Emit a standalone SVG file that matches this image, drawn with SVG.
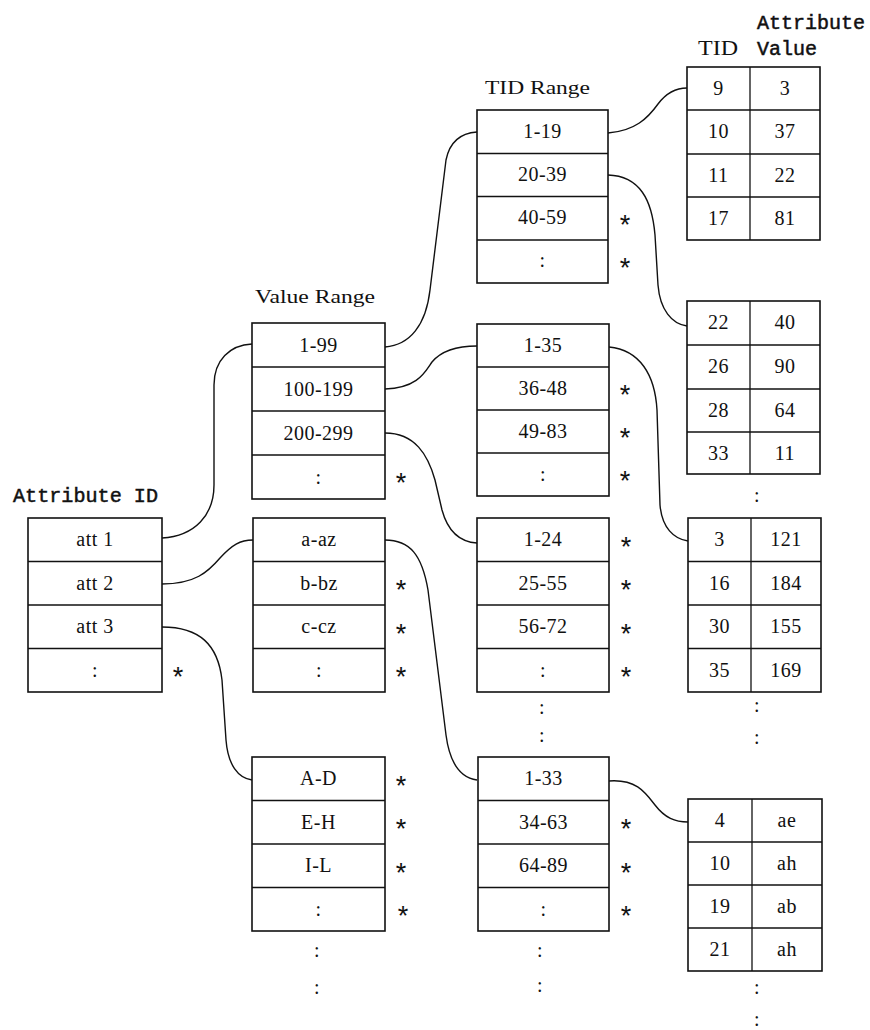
<svg xmlns="http://www.w3.org/2000/svg" width="870" height="1030" viewBox="0 0 870 1030">
<style>
.frame{fill:#fff;stroke:#111;stroke-width:1.6}
.div{stroke:#111;stroke-width:1.3}
.c{font-family:"Liberation Serif",serif;font-size:20px;fill:#111;text-anchor:middle;letter-spacing:0.5px}
.ast{font-family:"Liberation Sans",sans-serif;font-size:27px;fill:#111;text-anchor:middle}
.mono{font-family:"Liberation Mono",monospace;font-size:20px;fill:#111;stroke:#111;stroke-width:0.5}
.ser{font-family:"Liberation Serif",serif;font-size:19px;fill:#111}
.conn path{fill:none;stroke:#111;stroke-width:1.4}
</style>
<rect width="870" height="1030" fill="#fff"/>

<!-- headers -->
<text class="mono" x="13" y="502" textLength="145" lengthAdjust="spacingAndGlyphs" style="font-size:21px">Attribute ID</text>
<text class="ser" x="255" y="303" textLength="120" lengthAdjust="spacingAndGlyphs">Value Range</text>
<text class="ser" x="485" y="94" textLength="105" lengthAdjust="spacingAndGlyphs">TID Range</text>
<text class="ser" x="698" y="55" textLength="40" lengthAdjust="spacingAndGlyphs" style="font-size:20px">TID</text>
<text class="mono" x="757" y="29" textLength="108" lengthAdjust="spacingAndGlyphs">Attribute</text>
<text class="mono" x="757" y="55" textLength="60" lengthAdjust="spacingAndGlyphs">Value</text>

<!-- connectors -->
<g id="connectors" class="conn">
<path d="M162,538 C195,536 214,515 214,485 L214,385 C214,360 230,345 252,344"/>
<path d="M162,584 C195,584 208,572 220,558 C232,545 240,540 253,540"/>
<path d="M162,627 C200,627 218,645 222,680 L226,740 C228,765 238,778 252,780"/>
<path d="M385,347 C410,345 426,325 430,290 L446,160 C450,140 462,133 477,132"/>
<path d="M385,389 C418,388 425,372 432,362 C442,350 458,346 477,346"/>
<path d="M385,433 C415,433 428,455 435,480 L442,510 C448,532 460,542 477,543"/>
<path d="M385,540 C410,540 422,555 428,590 L446,735 C450,765 462,778 477,780"/>
<path d="M608,133 C635,131 648,118 658,104 C667,92 677,88 687,88"/>
<path d="M608,175 C640,176 652,200 655,235 L658,285 C660,310 672,324 687,326"/>
<path d="M609,347 C640,350 655,375 657,410 L660,505 C662,528 674,539 688,541"/>
<path d="M609,781 C636,779 645,792 655,805 C665,818 675,822 688,822"/>
</g>

<!-- Attribute ID table -->
<g id="attr-id">
<rect class="frame" x="28" y="518" width="134" height="174"/>
<line class="div" x1="28" y1="561.5" x2="162" y2="561.5"/>
<line class="div" x1="28" y1="605" x2="162" y2="605"/>
<line class="div" x1="28" y1="648.5" x2="162" y2="648.5"/>
<text class="c" x="95" y="546">att 1</text>
<text class="c" x="95" y="590">att 2</text>
<text class="c" x="95" y="633">att 3</text>
<text class="c" x="95" y="677">:</text>
<text class="ast" x="178" y="686">*</text>
</g>

<!-- Value Range table 1 -->
<g id="vr1">
<rect class="frame" x="252" y="323" width="133" height="176"/>
<line class="div" x1="252" y1="367" x2="385" y2="367"/>
<line class="div" x1="252" y1="411" x2="385" y2="411"/>
<line class="div" x1="252" y1="455" x2="385" y2="455"/>
<text class="c" x="318.5" y="351.5">1-99</text>
<text class="c" x="318.5" y="395.5">100-199</text>
<text class="c" x="318.5" y="439.5">200-299</text>
<text class="c" x="318.5" y="483.5">:</text>
<text class="ast" x="401" y="492">*</text>
</g>

<!-- Value Range table 2 -->
<g id="vr2">
<rect class="frame" x="253" y="518" width="132" height="174"/>
<line class="div" x1="253" y1="561.5" x2="385" y2="561.5"/>
<line class="div" x1="253" y1="605" x2="385" y2="605"/>
<line class="div" x1="253" y1="648.5" x2="385" y2="648.5"/>
<text class="c" x="319" y="546">a-az</text>
<text class="c" x="319" y="590">b-bz</text>
<text class="c" x="319" y="633">c-cz</text>
<text class="c" x="319" y="677">:</text>
<text class="ast" x="401" y="599">*</text>
<text class="ast" x="401" y="643">*</text>
<text class="ast" x="401" y="686">*</text>
</g>

<!-- Value Range table 3 -->
<g id="vr3">
<rect class="frame" x="252" y="757" width="133" height="174"/>
<line class="div" x1="252" y1="800.5" x2="385" y2="800.5"/>
<line class="div" x1="252" y1="844" x2="385" y2="844"/>
<line class="div" x1="252" y1="887.5" x2="385" y2="887.5"/>
<text class="c" x="318.5" y="785">A-D</text>
<text class="c" x="318.5" y="829">E-H</text>
<text class="c" x="318.5" y="872">I-L</text>
<text class="c" x="318.5" y="916">:</text>
<text class="ast" x="401" y="795">*</text>
<text class="ast" x="401" y="838">*</text>
<text class="ast" x="401" y="882">*</text>
<text class="ast" x="403" y="925">*</text>
<text class="c" x="317" y="957">:</text>
<text class="c" x="317" y="994">:</text>
</g>

<!-- TID Range table 1 -->
<g id="tr1">
<rect class="frame" x="477" y="110" width="131" height="173"/>
<line class="div" x1="477" y1="153.5" x2="608" y2="153.5"/>
<line class="div" x1="477" y1="196.5" x2="608" y2="196.5"/>
<line class="div" x1="477" y1="240" x2="608" y2="240"/>
<text class="c" x="542.5" y="138">1-19</text>
<text class="c" x="542.5" y="181">20-39</text>
<text class="c" x="542.5" y="224">40-59</text>
<text class="c" x="542.5" y="267">:</text>
<text class="ast" x="625" y="234">*</text>
<text class="ast" x="625" y="277">*</text>
</g>

<!-- TID Range table 2 -->
<g id="tr2">
<rect class="frame" x="477" y="324" width="132" height="172"/>
<line class="div" x1="477" y1="367" x2="609" y2="367"/>
<line class="div" x1="477" y1="410" x2="609" y2="410"/>
<line class="div" x1="477" y1="453" x2="609" y2="453"/>
<text class="c" x="543" y="352">1-35</text>
<text class="c" x="543" y="395">36-48</text>
<text class="c" x="543" y="438">49-83</text>
<text class="c" x="543" y="481">:</text>
<text class="ast" x="625" y="404">*</text>
<text class="ast" x="625" y="447">*</text>
<text class="ast" x="625" y="490">*</text>
</g>

<!-- TID Range table 3 -->
<g id="tr3">
<rect class="frame" x="477" y="518" width="132" height="174"/>
<line class="div" x1="477" y1="561.5" x2="609" y2="561.5"/>
<line class="div" x1="477" y1="605" x2="609" y2="605"/>
<line class="div" x1="477" y1="648.5" x2="609" y2="648.5"/>
<text class="c" x="543" y="546">1-24</text>
<text class="c" x="543" y="590">25-55</text>
<text class="c" x="543" y="633">56-72</text>
<text class="c" x="543" y="677">:</text>
<text class="ast" x="626" y="556">*</text>
<text class="ast" x="626" y="599">*</text>
<text class="ast" x="626" y="643">*</text>
<text class="ast" x="626" y="686">*</text>
<text class="c" x="542" y="714">:</text>
<text class="c" x="542" y="742">:</text>
</g>

<!-- TID Range table 4 -->
<g id="tr4">
<rect class="frame" x="478" y="757" width="131" height="174"/>
<line class="div" x1="478" y1="800.5" x2="609" y2="800.5"/>
<line class="div" x1="478" y1="844" x2="609" y2="844"/>
<line class="div" x1="478" y1="887.5" x2="609" y2="887.5"/>
<text class="c" x="543.5" y="785">1-33</text>
<text class="c" x="543.5" y="829">34-63</text>
<text class="c" x="543.5" y="872">64-89</text>
<text class="c" x="543.5" y="916">:</text>
<text class="ast" x="626" y="838">*</text>
<text class="ast" x="626" y="882">*</text>
<text class="ast" x="626" y="925">*</text>
<text class="c" x="540" y="957">:</text>
<text class="c" x="540" y="992">:</text>
</g>

<!-- Attribute value table 1 -->
<g id="av1">
<rect class="frame" x="687" y="67" width="133" height="173"/>
<line class="div" x1="750" y1="67" x2="750" y2="240"/>
<line class="div" x1="687" y1="110" x2="820" y2="110"/>
<line class="div" x1="687" y1="154" x2="820" y2="154"/>
<line class="div" x1="687" y1="197" x2="820" y2="197"/>
<text class="c" x="718.5" y="95">9</text><text class="c" x="785" y="95">3</text>
<text class="c" x="718.5" y="138">10</text><text class="c" x="785" y="138">37</text>
<text class="c" x="718.5" y="182">11</text><text class="c" x="785" y="182">22</text>
<text class="c" x="718.5" y="225">17</text><text class="c" x="785" y="225">81</text>
</g>

<!-- Attribute value table 2 -->
<g id="av2">
<rect class="frame" x="687" y="301" width="133" height="173"/>
<line class="div" x1="750" y1="301" x2="750" y2="474"/>
<line class="div" x1="687" y1="345" x2="820" y2="345"/>
<line class="div" x1="687" y1="389" x2="820" y2="389"/>
<line class="div" x1="687" y1="432" x2="820" y2="432"/>
<text class="c" x="718.5" y="329">22</text><text class="c" x="785" y="329">40</text>
<text class="c" x="718.5" y="373">26</text><text class="c" x="785" y="373">90</text>
<text class="c" x="718.5" y="417">28</text><text class="c" x="785" y="417">64</text>
<text class="c" x="718.5" y="460">33</text><text class="c" x="785" y="460">11</text>
<text class="c" x="757" y="502">:</text>
</g>

<!-- Attribute value table 3 -->
<g id="av3">
<rect class="frame" x="688" y="518" width="133" height="174"/>
<line class="div" x1="751" y1="518" x2="751" y2="692"/>
<line class="div" x1="688" y1="561.5" x2="821" y2="561.5"/>
<line class="div" x1="688" y1="605" x2="821" y2="605"/>
<line class="div" x1="688" y1="648.5" x2="821" y2="648.5"/>
<text class="c" x="719.5" y="546">3</text><text class="c" x="786" y="546">121</text>
<text class="c" x="719.5" y="590">16</text><text class="c" x="786" y="590">184</text>
<text class="c" x="719.5" y="633">30</text><text class="c" x="786" y="633">155</text>
<text class="c" x="719.5" y="677">35</text><text class="c" x="786" y="677">169</text>
<text class="c" x="757" y="712">:</text>
<text class="c" x="757" y="744">:</text>
</g>

<!-- Attribute value table 4 -->
<g id="av4">
<rect class="frame" x="688" y="799" width="134" height="172"/>
<line class="div" x1="752" y1="799" x2="752" y2="971"/>
<line class="div" x1="688" y1="842" x2="822" y2="842"/>
<line class="div" x1="688" y1="885" x2="822" y2="885"/>
<line class="div" x1="688" y1="928" x2="822" y2="928"/>
<text class="c" x="720" y="827">4</text><text class="c" x="787" y="827">ae</text>
<text class="c" x="720" y="870">10</text><text class="c" x="787" y="870">ah</text>
<text class="c" x="720" y="913">19</text><text class="c" x="787" y="913">ab</text>
<text class="c" x="720" y="956">21</text><text class="c" x="787" y="956">ah</text>
<text class="c" x="757" y="994">:</text>
<text class="c" x="757" y="1026">:</text>
</g>
</svg>
